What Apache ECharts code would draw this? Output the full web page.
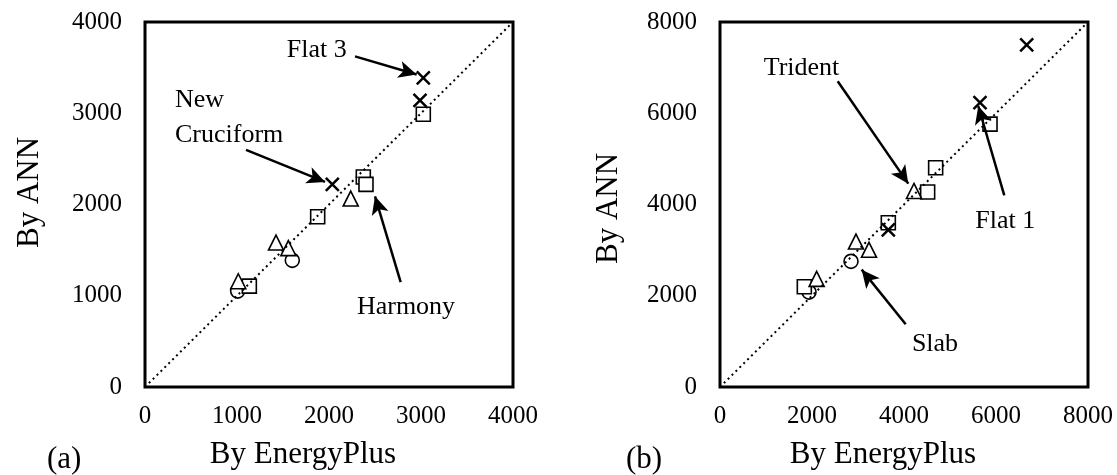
<!DOCTYPE html>
<html>
<head>
<meta charset="utf-8">
<script src="https://cdn.jsdelivr.net/npm/echarts@6/dist/echarts.min.js"></script>
<style>
  html, body { margin: 0; padding: 0; background: #fff; }
  #chart { width: 1117px; height: 475px; }
</style>
</head>
<body>
<div id="chart"></div>
<script>
// (a) values [EnergyPlus, ANN]
var circlesA = [[1007, 1051], [1601, 1388]];
var squaresA = [[1134, 1105], [1877, 1866], [2373, 2301], [2402, 2221], [3025, 2989]];
var trianglesA = [[1014, 1159], [1424, 1583], [1558, 1522], [2236, 2065]];
var crossesA = [[2036, 2221], [2989, 3141], [3025, 3388]];
var diagA = [[0, 0], [4000, 4000]];

// (b) values
var circlesB = [[1935, 2080], [2848, 2754]];
var squaresB = [[1833, 2196], [3659, 3601], [4514, 4275], [4688, 4804], [5870, 5761]];
var trianglesB = [[2101, 2370], [2956, 3188], [3239, 3007], [4217, 4297]];
var crossesB = [[3659, 3442], [5652, 6232], [6667, 7500]];
var diagB = [[0, 0], [8000, 8000]];

// annotations (text and arrows, in data units)
var notesA = [
  {name: 'Flat 3', value: [1866, 3696]},
  {name: 'New\nCruciform', value: [326, 2957], label: {align: 'left'}},
  {name: 'Harmony', value: [2837, 870]}
];
var arrowsA = [
  [[2283, 3623], [2953, 3424]],
  [[1098, 2598], [1957, 2247]],
  [[2779, 1149], [2500, 2090]]
];
var notesB = [
  {name: 'Trident', value: [1772, 6993]},
  {name: 'Flat 1', value: [6202, 3624]},
  {name: 'Slab', value: [4674, 941]}
];
var arrowsB = [
  [[2559, 6702], [4093, 4457]],
  [[6180, 4202], [5615, 6159]],
  [[4037, 1376], [3080, 2572]]
];

var ff = "'Liberation Serif', 'Times New Roman', serif";
var crossPath = 'path://M0,0L10,10M10,0L0,10';

function markers(data, symbol, size, idx, lw) {
  return {
    type: 'scatter',
    xAxisIndex: idx, yAxisIndex: idx,
    data: data,
    symbol: symbol,
    symbolSize: size,
    itemStyle: {
      color: symbol === crossPath ? 'none' : '#fff',
      borderColor: '#000',
      borderWidth: lw,
      opacity: 1
    }
  };
}

function diagonal(data, idx) {
  return {
    type: 'line',
    xAxisIndex: idx, yAxisIndex: idx,
    data: data,
    symbol: 'none',
    lineStyle: {color: '#000', width: 2, type: [2, 3.5]}
  };
}

function notes(data, arrows, idx) {
  return {
    type: 'scatter',
    xAxisIndex: idx, yAxisIndex: idx,
    data: data,
    symbolSize: 0,
    itemStyle: {color: '#000', opacity: 1},
    label: {
      show: true,
      formatter: function (p) { return p.name; },
      position: [0, 0],
      align: 'center',
      verticalAlign: 'middle',
      color: '#000',
      textBorderWidth: 0,
      fontFamily: ff,
      fontSize: 26,
      lineHeight: 35
    },
    markLine: {
      silent: true,
      symbol: ['none', 'arrow'],
      symbolSize: [13, 18],
      label: {show: false},
      lineStyle: {color: '#000', width: 2.5, type: 'solid', opacity: 1},
      data: arrows.map(function (a) { return [{coord: a[0]}, {coord: a[1]}]; })
    }
  };
}

function xAxis(idx, max, step, pad) {
  return {
    gridIndex: idx, type: 'value', min: 0, max: max, interval: step,
    name: 'By EnergyPlus', nameLocation: 'middle', nameGap: 52,
    nameTextStyle: {fontFamily: ff, fontSize: 31, color: '#000', padding: pad},
    axisLine: {show: false}, axisTick: {show: false}, splitLine: {show: false},
    axisLabel: {fontFamily: ff, fontSize: 25, color: '#000', margin: 17,
      formatter: function (v) { return String(v); }}
  };
}

function yAxis(idx, max, step, gap, pad) {
  return {
    gridIndex: idx, type: 'value', min: 0, max: max, interval: step,
    name: 'By ANN', nameLocation: 'middle', nameGap: gap, nameRotate: 90,
    nameTextStyle: {fontFamily: ff, fontSize: 31, color: '#000', padding: pad},
    axisLine: {show: false}, axisTick: {show: false}, splitLine: {show: false},
    axisLabel: {fontFamily: ff, fontSize: 25, color: '#000', margin: 23,
      formatter: function (v) { return String(v); }}
  };
}

var chart = echarts.init(document.getElementById('chart'));
chart.setOption({
  animation: false,
  backgroundColor: '#fff',
  grid: [
    {left: 145, top: 22, width: 368, height: 368, show: true, borderColor: '#000', borderWidth: 3},
    {left: 720, top: 22, width: 368, height: 368, show: true, borderColor: '#000', borderWidth: 3}
  ],
  xAxis: [xAxis(0, 4000, 1000, [0, 52, 0, 0]), xAxis(1, 8000, 2000, [0, 42, 0, 0])],
  yAxis: [yAxis(0, 4000, 1000, 100, [0, 0, 0, 24]), yAxis(1, 8000, 2000, 96, [0, 8, 0, 0])],
  graphic: [
    {type: 'text', left: 47, top: 444, style: {text: '(a)', font: '31px ' + ff, fill: '#000'}},
    {type: 'text', left: 626, top: 444, style: {text: '(b)', font: '31px ' + ff, fill: '#000'}}
  ],
  series: [
    diagonal(diagA, 0),
    markers(circlesA, 'circle', 14, 0, 1.6),
    markers(squaresA, 'rect', 14, 0, 1.6),
    markers(trianglesA, 'triangle', 15, 0, 1.6),
    markers(crossesA, crossPath, 13, 0, 2.5),
    notes(notesA, arrowsA, 0),
    diagonal(diagB, 1),
    markers(circlesB, 'circle', 14, 1, 1.6),
    markers(squaresB, 'rect', 14, 1, 1.6),
    markers(trianglesB, 'triangle', 15, 1, 1.6),
    markers(crossesB, crossPath, 13, 1, 2.5),
    notes(notesB, arrowsB, 1)
  ]
});
</script>
</body>
</html>
